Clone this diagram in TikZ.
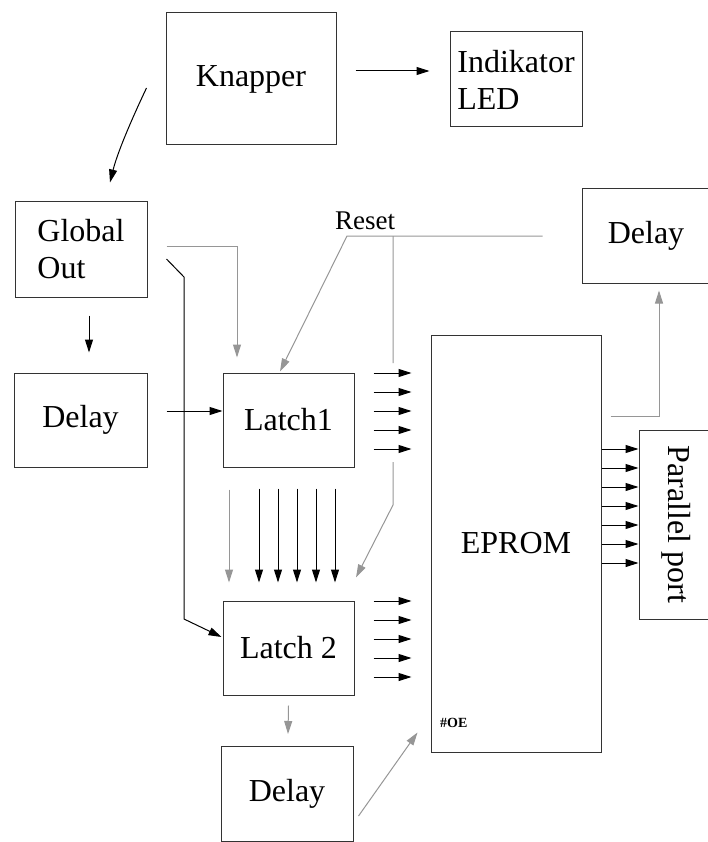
\documentclass[tikz,border=0pt]{standalone}
\usepackage{fontspec}
\setmainfont{Liberation Serif}
\usepackage{tikz}
\usetikzlibrary{arrows.meta,positioning,calc}
\usepackage{xcolor}
\definecolor{wiregray}{RGB}{150,150,150}

\begin{document}
\begin{tikzpicture}[
    x=1pt, y=-1pt,
    block/.style={rectangle, draw=black!80, line width=1pt, inner sep=0pt,
                  font=\fontsize{32}{37}\selectfont},
    arrow/.style={-{Triangle[length=13pt, width=8pt]}, line width=1pt, color=black},
    garrow/.style={-{Triangle[length=13pt, width=8pt]}, line width=1pt, color=wiregray}
]
\useasboundingbox (0,0) rectangle (707,842);

% Blocks
\node[block, minimum width=170, minimum height=132] (knapper) at (251,79) {Knapper};
\node[block, minimum width=132, minimum height=95, align=left] (led) at (516,79.5) {Indikator\\LED};
\node[block, minimum width=132, minimum height=95, align=left] (global) at (81,249.5) {Global\\Out};
\node[block, minimum width=128, minimum height=94] (delayR) at (646,236) {Delay};
\node[block, minimum width=133, minimum height=94] (delayL) at (80.5,420) {Delay};
\node[block, minimum width=131, minimum height=94] (latch1) at (288.5,420) {Latch1};
\node[block, minimum width=131, minimum height=94] (latch2) at (288.5,648) {Latch 2};
\node[block, minimum width=132, minimum height=95] (delayB) at (287,794) {Delay};
\node[block, minimum width=170, minimum height=417] (eprom) at (516,543.5) {EPROM};
\node[block, minimum width=75, minimum height=189] (par) at (676.5,524.5) {\rotatebox{-90}{Parallel port}};

% Labels
\node[font=\fontsize{27}{30}\selectfont] (reset) at (365,221) {Reset};
\node[font=\fontsize{14}{16}\selectfont\bfseries, anchor=west, inner sep=0pt] (oe) at (440,723) {\#OE};

% Bends
\coordinate (bendA) at (184,277);
\coordinate (bendB) at (184,619);
\coordinate (rstL) at (347,236);
\coordinate (rstT) at (393,236);

% Black connectors
\draw[arrow] ([shift={(19,-8)}]knapper.east) -- ([shift={(-20,-8.5)}]led.west);
\draw[arrow] ([shift={(-19,9)}]knapper.west) .. controls (136,110) and (118,150) .. ([shift={(29,-19)}]global.north);
\draw[arrow] ([shift={(8,18)}]global.south) -- ([shift={(8.5,-20)}]delayL.north);
\draw[arrow] ([shift={(19,-9)}]delayL.east) -- ([shift={(0,-9)}]latch1.west);
\draw[arrow] ([shift={(19,9.5)}]global.east) -- (bendA) -- (bendB) -- ([shift={(-1,-11)}]latch2.west);

% Gray connectors
\draw[garrow] ([shift={(19,-3.5)}]global.east) -| ([shift={(-51.5,-15)}]latch1.north);
\draw[garrow] ([xshift=-39]delayR.west) -- (rstL) -- ([shift={(-8.5,-1)}]latch1.north);
\draw[garrow] (rstT) -- (393,363) (393,462) -- (393,505) -- ([shift={(67.5,-23)}]latch2.north);
\draw[garrow] ([shift={(0,10)}]latch2.south) -- ([shift={(1,-12)}]delayB.north);
\draw[garrow] ([shift={(5,22)}]delayB.east) -- ([shift={(-13,-20)}]eprom.south west);
\draw[garrow] ([shift={(9,-127.5)}]eprom.east) -| ([shift={(13,7)}]delayR.south);

% Data lines
\foreach \dy in {-47,-28,-9,10,29} {
  \path ([shift={(0,\dy)}]latch1.east) coordinate (s1) ([shift={(0,\dy)}]latch2.east) coordinate (s2);
  \draw[arrow, shorten <=19pt, shorten >=19pt] (s1) -- (s1 -| eprom.west);
  \draw[arrow, shorten <=19pt, shorten >=19pt] (s2) -- (s2 -| eprom.west);
}
\foreach \dx in {-29.5,-10.5,8.5,27.5,46.5} {
  \path ([shift={(\dx,0)}]latch1.south) coordinate (s);
  \draw[arrow, shorten <=21pt, shorten >=18pt] (s) -- (s |- latch2.north);
}
\path ([shift={(-59.5,0)}]latch1.south) coordinate (s);
\draw[garrow, shorten <=22pt, shorten >=18pt] (s) -- (s |- latch2.north);
\foreach \dy in {-75.5,-56.5,-37.5,-18.5,0.5,19.5,38.5} {
  \path ([shift={(0,\dy)}]par.west) coordinate (t);
  \draw[arrow] (t -| eprom.east) -- (t);
}

\end{tikzpicture}
\end{document}
